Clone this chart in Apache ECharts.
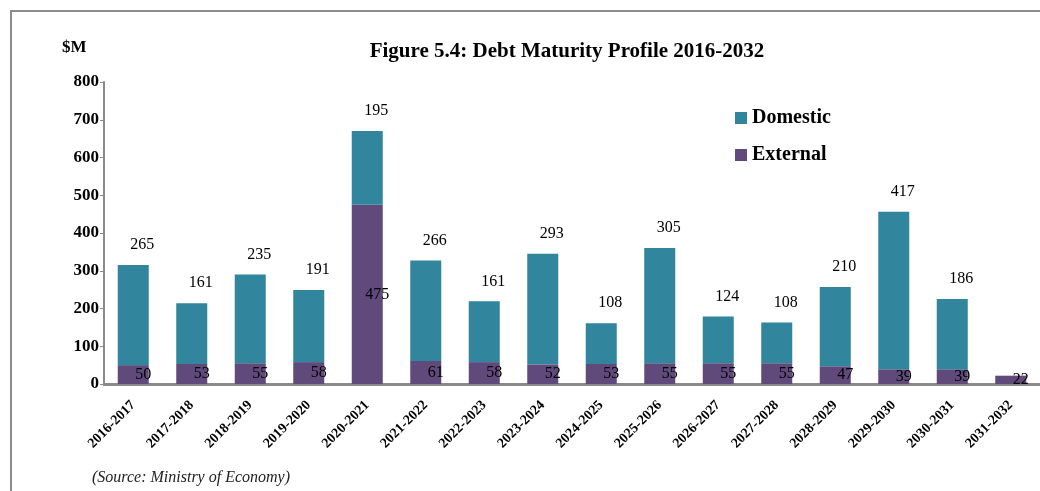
<!DOCTYPE html>
<html>
<head>
<meta charset="utf-8">
<script src="https://cdn.jsdelivr.net/npm/echarts@6/dist/echarts.min.js"></script>
<style>
  html, body { margin: 0; padding: 0; background: #fff; }
  #chart { width: 1040px; height: 491px; }
</style>
</head>
<body>
<div id="chart"></div>
<script>
  // fiscal years
  var categories = ['2016-2017', '2017-2018', '2018-2019', '2019-2020', '2020-2021', '2021-2022',
    '2022-2023', '2023-2024', '2024-2025', '2025-2026', '2026-2027', '2027-2028',
    '2028-2029', '2029-2030', '2030-2031', '2031-2032'];
  var external = [50, 53, 55, 58, 475, 61, 58, 52, 53, 55, 55, 55, 47, 39, 39, 22];
  var domestic = [265, 161, 235, 191, 195, 266, 161, 293, 108, 305, 124, 108, 210, 417, 186, 0];
  var yTicks = { min: 0, max: 800, interval: 100 };

  var serif = '"Liberation Serif", "DejaVu Serif", serif';
  var chart = echarts.init(document.getElementById('chart'));

  var option = {
    backgroundColor: '#fff',
    animation: false,
    title: {
      text: 'Figure 5.4: Debt Maturity Profile 2016-2032',
      left: 562,
      textAlign: 'center',
      top: 36,
      textStyle: { fontFamily: serif, fontSize: 21, fontWeight: 'bold', color: '#000' }
    },
    legend: {
      orient: 'vertical',
      left: 730,
      top: 103,
      itemWidth: 12,
      itemHeight: 12,
      itemGap: 17,
      icon: 'rect',
      data: ['Domestic', 'External'],
      textStyle: { fontFamily: serif, fontSize: 20, fontWeight: 'bold', color: '#000' }
    },
    graphic: [
      {
        type: 'rect',
        shape: { x: 11, y: 11, width: 1060, height: 520 },
        style: { fill: 'none', stroke: '#8c8c8c', lineWidth: 2 },
        silent: true
      },
      {
        type: 'text',
        left: 62,
        top: 39,
        style: { text: '$M', font: 'bold 17px ' + serif, fill: '#000' }
      },
      {
        type: 'text',
        left: 92,
        top: 470,
        style: { text: '(Source: Ministry of Economy)', font: 'italic 16px ' + serif, fill: '#222' }
      }
    ],
    grid: { left: 104, top: 82, height: 302, width: 939 },
    xAxis: {
      type: 'category',
      data: categories,
      axisLine: { lineStyle: { color: '#8a8a8a', width: 3 } },
      axisTick: { length: 5, lineStyle: { color: '#b5b5b5' } },
      axisLabel: {
        rotate: 45,
        interval: 0,
        margin: 19,
        fontFamily: serif,
        fontSize: 14,
        fontWeight: 'bold',
        color: '#000'
      }
    },
    yAxis: {
      type: 'value',
      min: yTicks.min,
      max: yTicks.max,
      interval: yTicks.interval,
      splitLine: { show: false },
      axisLine: { show: true, lineStyle: { color: '#8a8a8a', width: 2 } },
      axisTick: { show: true, length: 4, lineStyle: { color: '#8a8a8a' } },
      axisLabel: { fontFamily: serif, fontSize: 17, fontWeight: 'bold', color: '#000', margin: 5 }
    },
    series: [
      {
        name: 'External',
        type: 'bar',
        stack: 'debt',
        barWidth: 31,
        data: external,
        itemStyle: { color: '#604a7b' },
        label: {
          show: true,
          position: 'inside',
          offset: [10, 0],
          fontFamily: serif,
          fontSize: 16,
          color: '#000'
        }
      },
      {
        name: 'Domestic',
        type: 'bar',
        stack: 'debt',
        barWidth: 31,
        data: domestic,
        itemStyle: { color: '#31859c' },
        label: {
          show: true,
          position: 'top',
          distance: 12,
          offset: [9, 0],
          fontFamily: serif,
          fontSize: 16,
          color: '#000',
          formatter: function (p) { return p.value ? p.value : ''; }
        }
      }
    ]
  };

  chart.setOption(option);
  window.addEventListener('resize', chart.resize);
</script>
</body>
</html>
